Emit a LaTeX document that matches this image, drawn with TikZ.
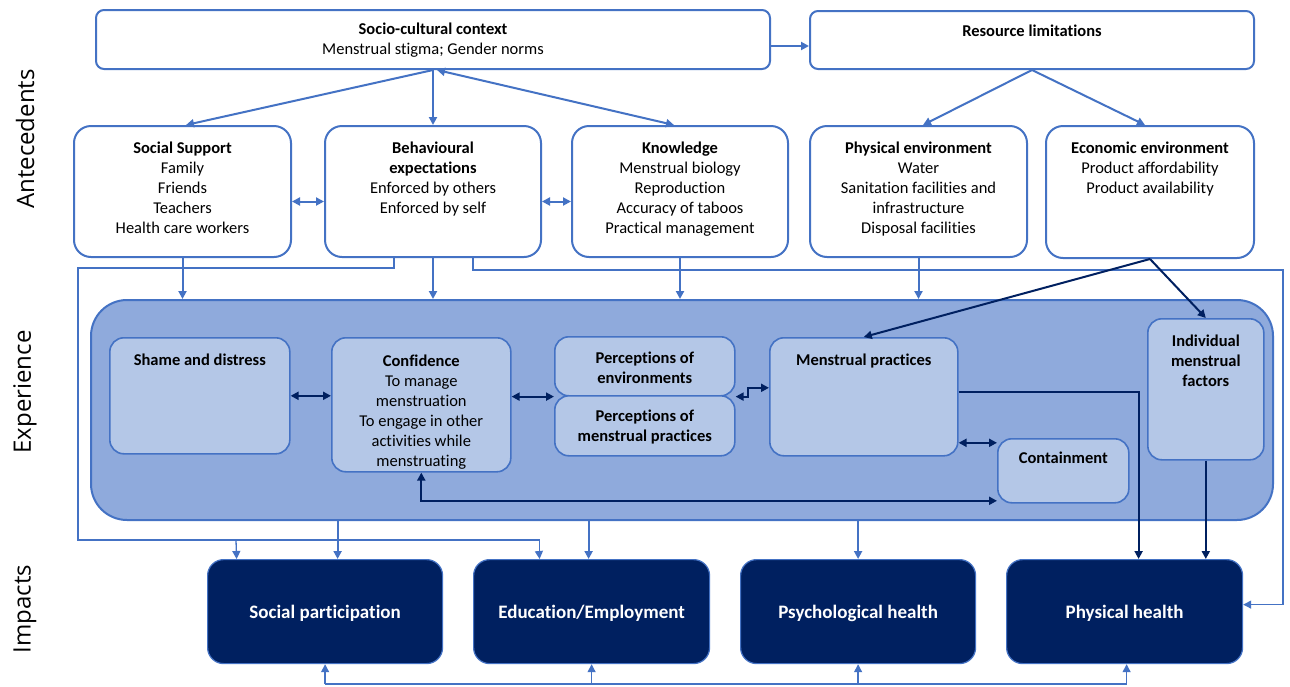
\documentclass[tikz,border=0pt]{standalone}
\usepackage{fontspec}
\setmainfont{Carlito}[Ligatures=NoCommon]
\newfontfamily\lblfont{Open Sans}
\usetikzlibrary{arrows.meta}
\definecolor{bord}{HTML}{4472C4}
\definecolor{expfill}{HTML}{8FAADC}
\definecolor{infill}{HTML}{B4C7E7}
\definecolor{navy}{HTML}{002060}
\newcommand\mkbox[6]{\node[#2, minimum width={#5-#3}, minimum height={#6-#4}, anchor=north west] (#1) at (#3,#4) {};}
\begin{document}
\begin{tikzpicture}[x=1pt,y=-1pt,
  topbox/.style={draw=bord, line width=2pt, rounded corners=8pt, fill=white, inner sep=0pt},
  midbox/.style={draw=bord, line width=2pt, rounded corners=17pt, fill=white, inner sep=0pt},
  expbox/.style={draw=bord, line width=2pt, rounded corners=36pt, fill=expfill, inner sep=0pt},
  inbox/.style={draw=bord, line width=1.6pt, rounded corners=14pt, fill=infill, inner sep=0pt},
  impbox/.style={draw=bord, line width=1.2pt, rounded corners=16pt, fill=navy, inner sep=0pt},
  txt/.style={align=center, inner sep=0pt, anchor=north, font=\fontsize{16.5}{20}\selectfont},
  imptxt/.style={align=center, inner sep=0pt, text=white, font=\fontsize{19}{22}\selectfont\bfseries},
  side/.style={rotate=90, inner sep=0pt, font=\lblfont\fontsize{24}{28}\selectfont},
  barr/.style={draw=bord, line width=2pt, -{Triangle[length=8pt,width=8pt]}},
  bdbl/.style={draw=bord, line width=2pt, {Triangle[length=8pt,width=8pt]}-{Triangle[length=8pt,width=8pt]}},
  bthin/.style={draw=bord, line width=1.3pt},
  bthinarr/.style={draw=bord, line width=1.3pt, -{Triangle[length=8pt,width=8pt]}},
  darr/.style={draw=navy, line width=2pt, -{Triangle[length=8pt,width=8pt]}},
  ddbl/.style={draw=navy, line width=2pt, {Triangle[length=8pt,width=8pt]}-{Triangle[length=8pt,width=8pt]}},
]
\useasboundingbox (0,0) rectangle (1290,686);
\fill[white] (0,0) rectangle (1290,686);

% side labels
\node[side] (antL) at (25,139) {Antecedents};
\node[side] (expL) at (25,392) {Experience};
\node[side] (impL) at (25,609) {Impacts};

% top boxes
\mkbox{socio}{topbox}{95}{9}{769}{68}
\mkbox{res}{topbox}{809}{10}{1253}{68}
\node[txt] (socioT) at ([yshift=-14pt]socio.north) {\textbf{Socio-cultural context}\\Menstrual stigma; Gender norms};
\node[txt] (resT) at ([yshift=-15pt]res.north) {\textbf{Resource limitations}};

% second row
\mkbox{ss}{midbox}{73}{125}{290}{256}
\mkbox{beh}{midbox}{324}{125}{540}{256}
\mkbox{kn}{midbox}{571}{125}{787}{256}
\mkbox{phys}{midbox}{809}{125}{1026}{256}
\mkbox{econ}{midbox}{1045}{125}{1253}{257}
\node[txt] (ssT) at ([yshift=-16.5pt]ss.north) {\textbf{Social Support}\\Family\\Friends\\Teachers\\Health care workers};
\node[txt] (behT) at ([yshift=-16.5pt]beh.north) {\textbf{Behavioural}\\\textbf{expectations}\\Enforced by others\\Enforced by self};
\node[txt] (knT) at ([yshift=-16.5pt]kn.north) {\textbf{Knowledge}\\Menstrual biology\\Reproduction\\Accuracy of taboos\\Practical management};
\node[txt] (physT) at ([yshift=-16.5pt]phys.north) {\textbf{Physical environment}\\Water\\Sanitation facilities and\\infrastructure\\Disposal facilities};
\node[txt] (econT) at ([yshift=-16.5pt]econ.north) {\textbf{Economic environment}\\Product affordability\\Product availability};

% impact boxes
\mkbox{soc}{impbox}{207}{559}{442}{663}
\mkbox{edu}{impbox}{473}{559}{709}{663}
\mkbox{psy}{impbox}{740}{559}{975}{663}
\mkbox{phy}{impbox}{1006}{559}{1242}{663}
\node[imptxt] (socT) at ([yshift=-2pt]soc.center) {Social participation};
\node[imptxt] (eduT) at ([yshift=-2pt]edu.center) {Education/Employment};
\node[imptxt] (psyT) at ([yshift=-2pt]psy.center) {Psychological health};
\node[imptxt] (phyT) at ([yshift=-2pt]phy.center) {Physical health};

% wrap-around thin lines
\coordinate (wl) at (78,540);
\draw[bthin] ([xshift=-39pt]beh.south) |- (78,268) -- (wl) -| ([xshift=-52pt,yshift=1pt]edu.north);
\draw[bthinarr] (236,540) -- ([xshift=-88.5pt]soc.north);
\draw[bthinarr] (539,552) -- ([xshift=-52pt]edu.north);
\draw[bthinarr] ([xshift=40pt]beh.south) |- (1283,270) |- ([yshift=7pt]phy.east);

% experience container
\mkbox{exp}{expbox}{90}{299}{1272}{519}

% top connectors
\draw[barr] ([yshift=-6.5pt]socio.east) -- ([yshift=-6pt]res.west);
\draw[barr] (socio.south) -- ([xshift=3.5pt]ss.north);
\draw[barr] (socio.south) -- (beh.north);
\draw[bdbl] ([xshift=4pt]socio.south) -- ([xshift=-6pt]kn.north);
\draw[barr] (res.south) -- ([xshift=4.5pt]phys.north);
\draw[barr] (res.south) -- ([xshift=-5pt]econ.north);
\draw[bdbl] ([yshift=-10pt]ss.east) -- ([yshift=-10pt]beh.west);
\draw[bdbl] ([yshift=-10pt]beh.east) -- ([yshift=-10pt]kn.west);

% row 2 -> experience
\draw[barr] (ss.south) -- (ss.south |- exp.north);
\draw[barr] (beh.south) -- (beh.south |- exp.north);
\draw[barr] (kn.south) -- (kn.south |- exp.north);
\draw[barr] (phys.south) -- (phys.south |- exp.north);

% experience -> impacts
\draw[barr] ([xshift=12.5pt,yshift=40pt]soc.north) -- ([xshift=12.5pt]soc.north);
\draw[barr] ([xshift=-3pt,yshift=40pt]edu.north) -- ([xshift=-3pt]edu.north);
\draw[barr] ([yshift=40pt]psy.north) -- (psy.north);

% bottom bus
\coordinate (bus) at (0,684);
\draw[bthin] (soc.south |- bus) -- ([xshift=2pt]phy.south |- bus);
\draw[bthinarr] (soc.south |- bus) -- (soc.south);
\draw[bthinarr] (edu.south |- bus) -- (edu.south);
\draw[bthinarr] (psy.south |- bus) -- (psy.south);
\draw[bthinarr] ([xshift=2pt]phy.south |- bus) -- ([xshift=2pt]phy.south);

% inner boxes
\mkbox{shame}{inbox}{109}{337}{289}{453}
\mkbox{conf}{inbox}{331}{337}{510}{471}
\mkbox{pe}{inbox}{554}{336}{734}{395}
\mkbox{pm}{inbox}{554}{395}{734}{455}
\mkbox{mp}{inbox}{769}{337}{957}{455}
\mkbox{cont}{inbox}{997}{438}{1128}{502}
\mkbox{ind}{inbox}{1147}{318}{1263}{459}
\node[txt] (shameT) at ([yshift=-17pt]shame.north) {\textbf{Shame and distress}};
\node[txt] (confT) at ([yshift=-18pt]conf.north) {\textbf{Confidence}\\To manage\\menstruation\\To engage in other\\activities while\\menstruating};
\node[txt] (peT) at ([yshift=-16pt]pe.north) {\textbf{Perceptions of}\\\textbf{environments}};
\node[txt] (pmT) at ([yshift=-15pt]pm.north) {\textbf{Perceptions of}\\\textbf{menstrual practices}};
\node[txt] (mpT) at ([yshift=-17pt]mp.north) {\textbf{Menstrual practices}};
\node[txt] (contT) at ([yshift=-14pt]cont.north) {\textbf{Containment}};
\node[txt] (indT) at ([yshift=-17pt]ind.north) {\textbf{Individual}\\\textbf{menstrual}\\\textbf{factors}};

% dark connectors
\draw[ddbl] (shame.east) -- (shame.east -| conf.west);
\draw[ddbl] (conf.east |- pe.south) -- (pe.south west);
\draw[ddbl] (pe.south east) -- ++(12,0) |- ([yshift=9pt]mp.west);
\draw[ddbl] ([yshift=28pt]cont.west -| mp.east) -- ([yshift=28pt]cont.west);
\draw[ddbl] (conf.south) |- ([yshift=-30pt]cont.west);
\draw[darr] ([yshift=5pt]mp.east) -| ([xshift=14pt]phy.north);
\draw[darr] (ind.south) -- (ind.south |- phy.north);
\draw[darr] (econ.south) -- (mp.north);
\draw[darr] (econ.south) -- (ind.north);
\end{tikzpicture}
\end{document}
